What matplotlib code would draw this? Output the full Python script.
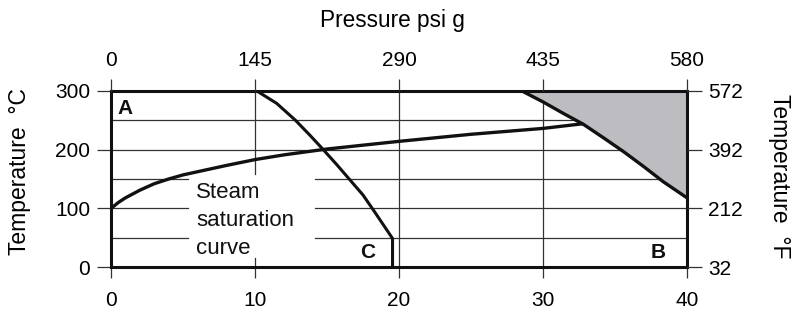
import matplotlib
matplotlib.use("Agg")
import matplotlib.pyplot as plt

plt.rcParams["font.family"] = ["Liberation Sans", "DejaVu Sans"]

# ---- data ----
# steam saturation curve (bar g, degC)
sat_p = [0, 0.5, 1, 2, 3, 4, 5, 6.5, 8, 10, 12, 15, 20, 25, 30, 32.8]
sat_t = [100, 110, 118, 131, 142, 150, 157, 165, 173, 183, 191, 201, 214, 226, 236, 244]

# left limit curve ending in the vertical drop at C
lim_p = [10.1, 11.5, 12.8, 13.8, 14.7, 15.7, 16.6, 17.5, 18.3, 19.0, 19.55, 19.55]
lim_t = [300, 278.6, 250, 224.7, 201, 173.8, 148.3, 122.8, 94.4, 69, 49, 0]

# shaded region boundary (top right)
shade_p = [28.5, 30.0, 31.4, 32.8, 34.2, 35.6, 37.0, 38.35, 40]
shade_t = [300, 281, 261.6, 243, 220, 196.4, 171, 145.4, 118]

bar_ticks = [0, 10, 20, 30, 40]
psi_labels = ["0", "145", "290", "435", "580"]
degc_ticks = [0, 100, 200, 300]
degf_labels = ["32", "212", "392", "572"]

# gridlines: full ones and the ones broken around the "Steam saturation curve" text
full_h = [200, 250]
broken_h = [50, 100, 150]
text_gap = (5.35, 14.2)
full_v = [20, 30]
v10_segments = [(159, 300), (0, 15)]

ink = "#111111"
grid_c = "#333333"

fig = plt.figure(figsize=(7.97, 3.31), dpi=100)
ax = fig.add_axes([0.1393, 0.1924, 0.7227, 0.5335])
ax.set_xlim(0, 40)
ax.set_ylim(0, 300)

# grid
for t in full_h:
    ax.plot([0, 40], [t, t], color=grid_c, lw=0.9, zorder=1)
for t in broken_h:
    ax.plot([0, text_gap[0]], [t, t], color=grid_c, lw=0.9, zorder=1)
    ax.plot([text_gap[1], 40], [t, t], color=grid_c, lw=0.9, zorder=1)
for p in full_v:
    ax.plot([p, p], [0, 300], color=grid_c, lw=0.9, zorder=1)
for lo, hi in v10_segments:
    ax.plot([10, 10], [lo, hi], color=grid_c, lw=0.9, zorder=1)

# shaded region + curves
ax.fill_betweenx(shade_t, shade_p, 40, color="#bdbdc1", lw=0, zorder=2)
curve_kw = dict(color=ink, zorder=3, solid_capstyle="butt", solid_joinstyle="round")
ax.plot(shade_p, shade_t, lw=2.4, **curve_kw)
ax.plot(sat_p, sat_t, lw=2.4, **curve_kw)
ax.plot(lim_p, lim_t, lw=2.2, **curve_kw)

# annotations
ax.text(0.42, 270, "A", fontsize=15, fontweight="bold", va="center", ha="left", color=ink)
ax.text(37.5, 26, "B", fontsize=15, fontweight="bold", va="center", ha="left", color=ink)
ax.text(17.3, 26, "C", fontsize=15, fontweight="bold", va="center", ha="left", color=ink)
ax.text(5.9, 80, "Steam\nsaturation\ncurve", fontsize=16, va="center", ha="left",
        linespacing=1.45, color=ink)

# frame
for s in ax.spines.values():
    s.set_linewidth(2.2)
    s.set_color(ink)
    s.set_zorder(4)

ax.set_xticks(bar_ticks)
ax.set_yticks(degc_ticks)
ax.tick_params(axis="x", direction="out", length=8, width=0.9, labelsize=15, pad=9, color=grid_c)
ax.tick_params(axis="y", direction="out", length=10, width=0.9, labelsize=15, pad=5, color=grid_c)

# top axis in psi g
axt = ax.twiny()
axt.set_xlim(ax.get_xlim())
axt.set_xticks(bar_ticks)
axt.set_xticklabels(psi_labels)
axt.tick_params(axis="x", direction="out", length=9, width=0.9, labelsize=15, pad=6, color=grid_c)
for s in axt.spines.values():
    s.set_visible(False)

# right axis in degF
axr = ax.twinx()
axr.set_ylim(ax.get_ylim())
axr.set_yticks(degc_ticks)
axr.set_yticklabels(degf_labels)
axr.tick_params(axis="y", direction="out", length=11, width=0.9, labelsize=15, pad=4, color=grid_c)
for s in axr.spines.values():
    s.set_visible(False)

# axis titles
fig.text(392 / 797, 1 - 20 / 331, "Pressure psi g", fontsize=16.3, ha="center", va="center")
fig.text(20 / 797, 1 - 172 / 331, "Temperature  \u00b0C", fontsize=16.5, ha="center", va="center",
         rotation=90)
fig.text(780 / 797, 1 - 176 / 331, "Temperature  \u00b0F", fontsize=16.5, ha="center", va="center",
         rotation=270)

fig.savefig("out.png", dpi=100)
